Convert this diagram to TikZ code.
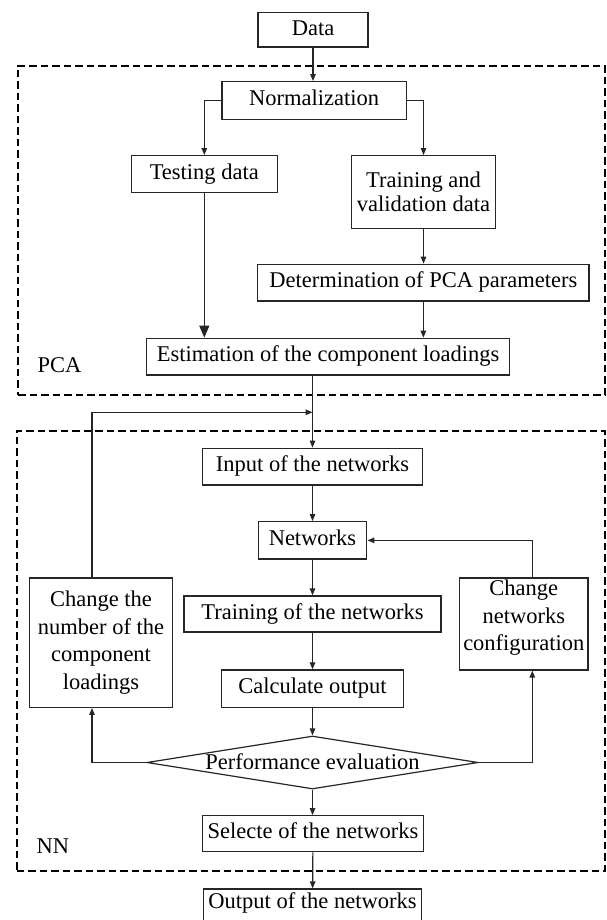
\documentclass[tikz,border=0pt]{standalone}
\usepackage{fontspec}
\setmainfont{Liberation Serif}
\usetikzlibrary{arrows.meta,shapes.geometric}
\begin{document}
\begin{tikzpicture}[x=1pt,y=-1pt,
  txt/.style={font=\fontsize{22.5pt}{27.6pt}\selectfont, inner sep=0pt},
  box/.style={txt, draw=black!85, line width=1.3pt, text height=15pt, text depth=4.5pt},
  mbox/.style={txt, draw=black!85, line width=1.3pt, align=center},
  frame/.style={draw=black, line width=2pt, dash pattern=on 7.5pt off 4pt, inner sep=0pt},
  arr/.style={draw=black!85, line width=1.2pt, -{Triangle[length=7pt,width=5.5pt]}},
  bigarr/.style={draw=black!85, line width=1.2pt, -{Triangle[length=12pt,width=10pt]}},
  ln/.style={draw=black!85, line width=1.2pt}]
\useasboundingbox (0,0) rectangle (606,920);

% frames
\node[frame, minimum width=586.5pt, minimum height=329.3pt] (pcaframe) at (311.25,230.35) {};
\node[frame, minimum width=587.8pt, minimum height=440pt] (nnframe) at (310.6,651) {};
\node[txt, anchor=west] (pcalabel) at (37.5,365) {PCA};
\node[txt, anchor=west] (nnlabel) at (36.5,846.3) {NN};

% PCA part
\node[box, minimum width=110pt, minimum height=34.3pt] (data) at (313,29.85) {Data};
\node[box, minimum width=184.3pt, minimum height=37.6pt] (norm) at (314.2,100.5) {Normalization};
\node[box, minimum width=146pt, minimum height=37pt] (test) at (204.3,174.2) {Testing data};
\node[mbox, font=\fontsize{22.5pt}{24.4pt}\selectfont, minimum width=144.4pt, minimum height=72.6pt] (train) at (423.5,192) {Training and\\validation data};
\node[box, minimum width=331.3pt, minimum height=36.7pt] (det) at (423.35,282.65) {Determination of PCA parameters};
\node[box, minimum width=363pt, minimum height=36.7pt] (est) at (328.2,356.65) {Estimation of the component loadings};

% NN part
\node[box, minimum width=219.6pt, minimum height=36.7pt] (input) at (312.5,466.65) {Input of the networks};
\node[box, minimum width=108.6pt, minimum height=37.3pt] (net) at (312.5,540.35) {Networks};
\node[box, minimum width=257pt, minimum height=36pt] (trainnet) at (312.5,614) {Training of the networks};
\node[box, minimum width=181.7pt, minimum height=37.3pt] (calc) at (312.5,688.65) {Calculate output};
\node[draw=black!85, line width=1.2pt, shape=diamond, inner sep=0pt, minimum width=331.3pt, minimum height=53pt] (eval) at (312.5,762.5) {};
\node[txt] (evaltxt) at (312.5,761.5) {Performance evaluation};
\node[box, minimum width=221.3pt, minimum height=36pt] (sel) at (313,833.7) {Selecte of the networks};
\node[box, text depth=12.5pt, minimum width=218pt, minimum height=36pt] (out) at (312.5,907) {Output of the networks};
\node[mbox, minimum width=143.4pt, minimum height=129.3pt] (chnum) at (101,642.65) {Change the\\number of the\\component\\loadings};
\node[mbox, minimum width=128.3pt, minimum height=92pt] (chcfg) at (523.85,624) {};
\node[txt, align=center] (chcfgtxt) at (523.85,617.8) {Change\\networks\\configuration};

% helper coordinates
\coordinate (lx) at (92,412.3);
\coordinate (rx) at (532.3,540.35);

% connectors
\draw[arr] (data) -- (data.south |- norm.north);
\draw[arr] (norm.west) -- (norm.west -| test.north) -- (test.north);
\draw[arr] (norm.east) -- (norm.east -| train.north) -- (train.north);
\draw[bigarr] (test.south) -- (test.south |- est.north);
\draw[arr] (train.south) -- (train.south |- det.north);
\draw[arr] (det.south) -- (det.south |- est.north);
\draw[arr] (input.north |- est.south) -- (input.north);
\draw[arr] (lx |- chnum.north) -- (lx) -- (input.north |- lx);
\draw[arr] (input) -- (net);
\draw[arr] (net) -- (trainnet);
\draw[arr] (trainnet) -- (calc);
\draw[arr] (calc) -- (eval.north);
\draw[arr] (eval.south) -- (sel.north -| eval.south);
\draw[arr] (sel) -- (out);
\draw[arr] (eval.west) -- (eval.west -| lx) -- (lx |- chnum.south);
\draw[arr] (eval.east) -- (eval.east -| rx) -- (rx |- chcfg.south);
\draw[arr] (rx |- chcfg.north) -- (rx) -- (net.east);
\end{tikzpicture}
\end{document}
